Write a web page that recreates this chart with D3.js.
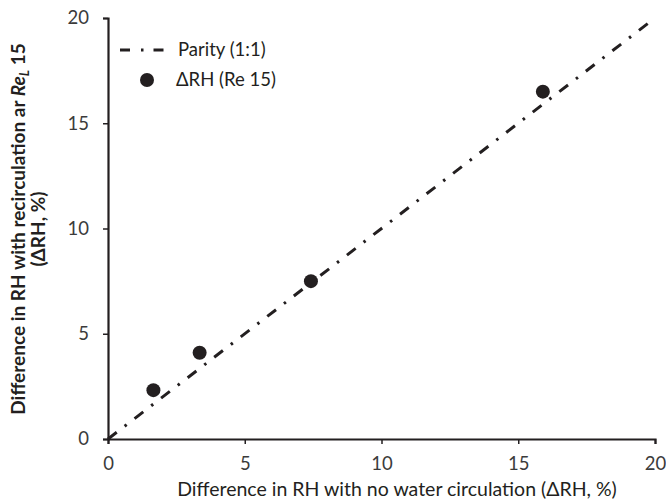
<!DOCTYPE html>
<meta charset="utf-8">
<style>
  body { margin: 0; background: #fff; }
  text { font-family: Lato, "Open Sans", sans-serif; fill: #231f20; }
</style>
<body>
<script src="https://d3js.org/d3.v7.min.js"></script>
<script>

var width = 666,
    height = 500;

// measured points (x = no circulation, y = recirculation at Re 15)
var dRHnoCirc = [1.66, 3.35, 7.42, 15.9];
var dRHrecirc = [2.32, 4.1, 7.5, 16.5];
var parity = [0, 20];
var ticks = [0, 5, 10, 15, 20];

var svg = d3.select("body").append("svg")
    .attr("width", width)
    .attr("height", height);

var x = d3.scaleLinear().domain([0, 20]).range([108, 655]);
var y = d3.scaleLinear().domain([0, 20]).range([439, 18]);

// axes
var xAxis = svg.append("g")
    .attr("transform", "translate(0," + y(0) + ")")
    .call(d3.axisBottom(x).tickValues(ticks).tickSize(5).tickPadding(13));
var yAxis = svg.append("g")
    .attr("transform", "translate(" + x(0) + ",0)")
    .call(d3.axisLeft(y).tickValues(ticks).tickSize(5).tickPadding(14));

[xAxis, yAxis].forEach(function(g) {
  g.select(".domain").attr("stroke", "#231f20").attr("stroke-width", 2.2);
  g.selectAll(".tick line").attr("stroke", "#231f20").attr("stroke-width", 1.5);
  g.selectAll(".tick text").attr("font-size", 18.5).style("fill", "#3b3b3b")
    .attr("font-family", "Lato, sans-serif");
});

// parity line
svg.append("line")
    .attr("x1", x(parity[0])).attr("y1", y(parity[0]))
    .attr("x2", x(parity[1])).attr("y2", y(parity[1]))
    .attr("stroke", "#231f20")
    .attr("stroke-width", 3)
    .attr("stroke-dasharray", "11,10,2.5,10");

// points
svg.selectAll("circle.pt")
    .data(dRHnoCirc)
    .enter().append("circle")
    .attr("class", "pt")
    .attr("cx", function(d) { return x(d); })
    .attr("cy", function(d, i) { return y(dRHrecirc[i]); })
    .attr("r", 7)
    .attr("fill", "#231f20");

// legend
var leg = svg.append("g");
leg.append("line")
    .attr("x1", 120).attr("x2", 164).attr("y1", 50).attr("y2", 50)
    .attr("stroke", "#231f20").attr("stroke-width", 3)
    .attr("stroke-dasharray", "10,11,2.5,10");
leg.append("text").attr("x", 178).attr("y", 56).attr("font-size", 18.5).text("Parity (1:1)");
leg.append("circle").attr("cx", 147).attr("cy", 80).attr("r", 7).attr("fill", "#231f20");
leg.append("text").attr("x", 176).attr("y", 86).attr("font-size", 18.5).text("\u0394RH (Re 15)");

// axis titles
svg.append("text")
    .attr("x", 397).attr("y", 496)
    .attr("text-anchor", "middle").attr("font-size", 19.5)
    .text("Difference in RH with no water circulation (\u0394RH, %)");

var yt = svg.append("g")
    .attr("transform", "translate(25," + 229 + ") rotate(-90)");
var l1 = yt.append("text").attr("text-anchor", "middle").attr("font-size", 19).attr("font-weight", "bold");
l1.append("tspan").text("Difference in RH with recirculation ar ");
l1.append("tspan").attr("font-style", "italic").text("Re");
l1.append("tspan").attr("font-style", "italic").attr("font-size", 13).attr("dy", 4).text("L");
l1.append("tspan").attr("dy", -4).text(" 15");
yt.append("text").attr("y", 20).attr("text-anchor", "middle")
    .attr("font-size", 19).attr("font-weight", "bold").text("(\u0394RH, %)");

</script>
</body>
